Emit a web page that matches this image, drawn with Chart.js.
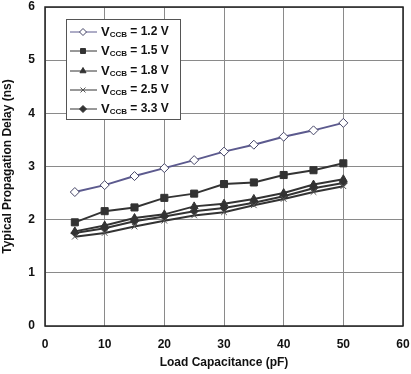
<!DOCTYPE html>
<html>
<head>
<meta charset="utf-8">
<script src="https://cdn.jsdelivr.net/npm/chart.js@4"></script>
<style>
  html, body { margin: 0; padding: 0; background: #fff; }
  #wrap { width: 411px; height: 374px; position: relative; }
</style>
</head>
<body>
<div id="wrap"><canvas id="chart" width="411" height="374"></canvas></div>
<script>
// Load capacitance (pF)
const loadCap = [5, 10, 15, 20, 25, 30, 35, 40, 45, 50];

// Typical propagation delay (ns) per VCCB
const vccbLabels = ['1.2 V', '1.5 V', '1.8 V', '2.5 V', '3.3 V'];
const delay12 = [2.52, 2.65, 2.82, 2.97, 3.12, 3.28, 3.41, 3.56, 3.68, 3.82];
const delay15 = [1.95, 2.16, 2.23, 2.41, 2.49, 2.67, 2.70, 2.84, 2.93, 3.06];
const delay18 = [1.78, 1.89, 2.03, 2.10, 2.25, 2.30, 2.39, 2.50, 2.66, 2.76];
const delay25 = [1.68, 1.75, 1.87, 1.98, 2.08, 2.14, 2.27, 2.39, 2.52, 2.63];
const delay33 = [1.75, 1.84, 1.97, 2.06, 2.16, 2.22, 2.32, 2.44, 2.59, 2.69];

const xTicks = [0, 10, 20, 30, 40, 50, 60];
const yTicks = [0, 1, 2, 3, 4, 5, 6];

const FONT = "'Liberation Sans', Arial, sans-serif";
const dark = '#333333';

function series(values) {
    return values.map((v, i) => ({ x: loadCap[i], y: v }));
}

const datasets = [
    { label: vccbLabels[0], data: series(delay12), borderColor: '#5c5a8e', pointStyle: 'rectRot',
      pointBackgroundColor: '#ffffff', pointBorderColor: '#444466', pointRadius: 4.5, pointBorderWidth: 1 },
    { label: vccbLabels[1], data: series(delay15), borderColor: dark, pointStyle: 'rect',
      pointBackgroundColor: dark, pointBorderColor: dark, pointRadius: 5, pointBorderWidth: 1 },
    { label: vccbLabels[2], data: series(delay18), borderColor: dark, pointStyle: 'triangle',
      pointBackgroundColor: dark, pointBorderColor: dark, pointRadius: 4.5, pointBorderWidth: 1 },
    { label: vccbLabels[3], data: series(delay25), borderColor: dark, pointStyle: 'crossRot',
      pointBackgroundColor: dark, pointBorderColor: '#555555', pointRadius: 4, pointBorderWidth: 1 },
    { label: vccbLabels[4], data: series(delay33), borderColor: dark, pointStyle: 'rectRot',
      pointBackgroundColor: dark, pointBorderColor: dark, pointRadius: 4, pointBorderWidth: 1 }
];
datasets.forEach(d => { d.borderWidth = 2; d.tension = 0; d.fill = false; });

// frame round the plot area + legend box with subscripts
const framePlugin = {
    id: 'frame',
    afterDraw(chart) {
        const { ctx, chartArea: a } = chart;
        ctx.save();
        ctx.strokeStyle = '#222';
        ctx.lineWidth = 1.5;
        ctx.strokeRect(a.left, a.top, a.right - a.left, a.bottom - a.top);

        // legend
        const bx = 66, by = 19, bw = 114, bh = 100;
        ctx.fillStyle = '#fff';
        ctx.fillRect(bx, by, bw, bh);
        ctx.strokeStyle = '#555';
        ctx.lineWidth = 1;
        ctx.strokeRect(bx + 0.5, by + 0.5, bw, bh);
        const rows = [32, 51, 71, 90, 109];
        datasets.forEach((d, i) => {
            const y = rows[i];
            ctx.strokeStyle = d.borderColor;
            ctx.lineWidth = 1;
            ctx.beginPath();
            ctx.moveTo(70, y);
            ctx.lineTo(97, y);
            ctx.stroke();
            ctx.fillStyle = d.pointBackgroundColor;
            ctx.strokeStyle = d.pointBorderColor;
            Chart.helpers.drawPoint(ctx, { pointStyle: d.pointStyle, radius: 3.5, rotation: 0, borderWidth: 1 }, 83, y);
            ctx.fillStyle = '#111';
            ctx.textBaseline = 'middle';
            ctx.textAlign = 'left';
            ctx.font = 'bold 13px ' + FONT;
            ctx.fillText('V', 101, y);
            let x = 101 + ctx.measureText('V').width;
            ctx.font = 'bold 8px ' + FONT;
            ctx.fillText('CCB', x, y + 3);
            x += ctx.measureText('CCB').width;
            ctx.font = 'bold 12px ' + FONT;
            ctx.fillText(' = ' + d.label, x, y);
        });
        ctx.restore();
    }
};

new Chart(document.getElementById('chart'), {
    type: 'line',
    data: { datasets },
    options: {
        responsive: false,
        animation: false,
        layout: { padding: { top: 7, right: 8, left: 0, bottom: 4 } },
        plugins: { legend: { display: false }, tooltip: { enabled: false } },
        scales: {
            x: {
                type: 'linear', min: 0, max: 60,
                afterBuildTicks: s => { s.ticks = xTicks.map(v => ({ value: v })); },
                afterFit: s => { s.height = 44; s.paddingLeft = 0; s.paddingRight = 0; },
                grid: { color: '#8a8a8a', lineWidth: 1, drawTicks: false },
                border: { display: false },
                ticks: { color: '#111', font: { family: FONT, size: 12, weight: 'bold' }, padding: 11, maxRotation: 0 },
                title: { display: true, text: 'Load Capacitance (pF)', color: '#111',
                         font: { family: FONT, size: 12, weight: 'bold' }, padding: { top: 4, bottom: 0 } }
            },
            y: {
                type: 'linear', min: 0, max: 6,
                afterBuildTicks: s => { s.ticks = yTicks.map(v => ({ value: v })); },
                afterFit: s => { s.width = 45; s.paddingTop = 0; s.paddingBottom = 0; },
                grid: { color: '#8a8a8a', lineWidth: 1, drawTicks: false },
                border: { display: false },
                ticks: { color: '#111', font: { family: FONT, size: 12, weight: 'bold' }, padding: 10 },
                title: { display: true, text: 'Typical Propagation Delay (ns)', color: '#111',
                         font: { family: FONT, size: 12, weight: 'bold' }, padding: 0 }
            }
        }
    },
    plugins: [framePlugin]
});
</script>
</body>
</html>
